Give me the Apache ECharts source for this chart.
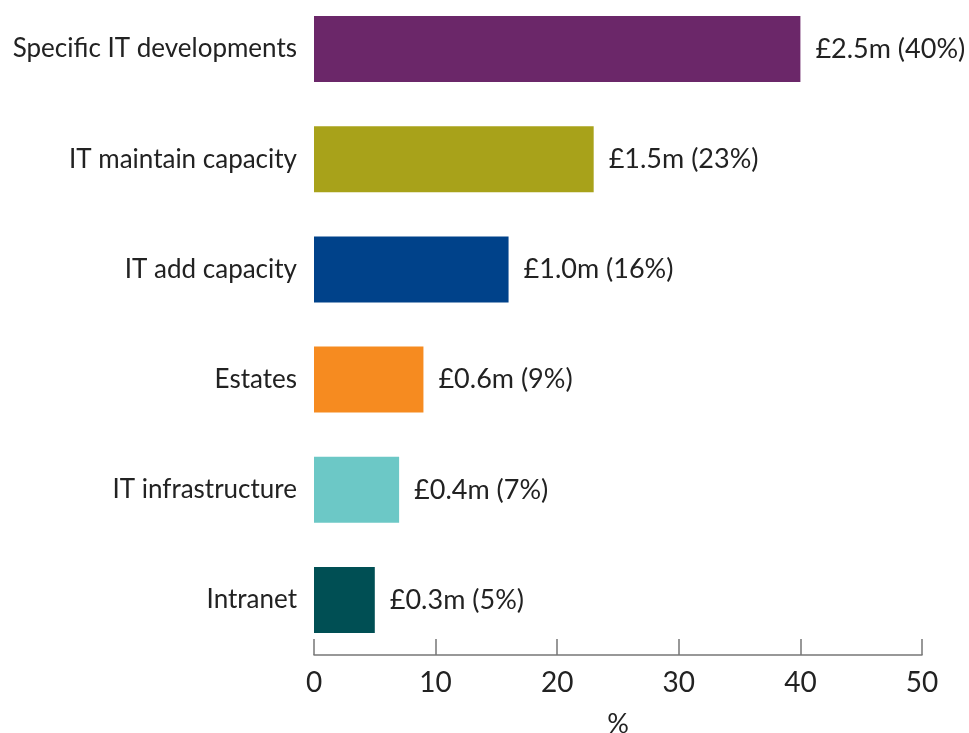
<!DOCTYPE html>
<html>
<head>
<meta charset="utf-8">
<script src="https://cdn.jsdelivr.net/npm/echarts@6/dist/echarts.min.js"></script>
<style>
  html, body { margin: 0; padding: 0; background: #fff; }
  #chart { width: 969px; height: 733px; }
</style>
</head>
<body>
<div id="chart"></div>
<script>
// Spend by area, top to bottom
const categories = [
  'Specific IT developments',
  'IT maintain capacity',
  'IT add capacity',
  'Estates',
  'IT infrastructure',
  'Intranet'
];
const shares = [40, 23, 16, 9, 7, 5];            // % of total
const amounts = ['£2.5m', '£1.5m', '£1.0m', '£0.6m', '£0.4m', '£0.3m'];
const colours = ['#6B2769', '#A8A21A', '#00428A', '#F68B20', '#6CC8C6', '#004F54'];
const xTicks = [0, 10, 20, 30, 40, 50];

const FONT = 'Lato, "Open Sans", sans-serif';
const TEXT = '#222222';

const chart = echarts.init(document.getElementById('chart'));
chart.setOption({
  animation: false,
  // category centres sit on the grid edges (boundaryGap false); the x axis is pushed down below the last bar
  grid: { left: 314, right: 47, top: 49, height: 551, containLabel: false, outerBoundsMode: 'none' },
  xAxis: {
    type: 'value',
    min: xTicks[0],
    max: xTicks[xTicks.length - 1],
    interval: 10,
    offset: 55,
    name: '%',
    nameLocation: 'middle',
    nameGap: 56,
    nameTextStyle: { fontFamily: FONT, fontSize: 27, color: TEXT },
    axisLine: { show: true, lineStyle: { color: '#777777', width: 1.5 } },
    axisTick: { show: true, inside: true, length: 16, lineStyle: { color: '#777777', width: 1.5 } },
    axisLabel: { fontFamily: FONT, fontSize: 28, color: TEXT, margin: 14 },
    splitLine: { show: false }
  },
  yAxis: {
    type: 'category',
    inverse: true,
    boundaryGap: false,
    data: categories,
    axisLine: { show: false },
    axisTick: { show: false },
    axisLabel: { fontFamily: FONT, fontSize: 26, color: TEXT, margin: 17 }
  },
  series: [{
    type: 'bar',
    barWidth: 66,
    data: shares.map((v, i) => ({ value: v, itemStyle: { color: colours[i] } })),
    label: {
      show: true,
      position: 'right',
      distance: 15,
      fontFamily: FONT,
      fontSize: 27,
      color: TEXT,
      formatter: p => amounts[p.dataIndex] + ' (' + p.value + '%)'
    }
  }]
});
</script>
</body>
</html>
